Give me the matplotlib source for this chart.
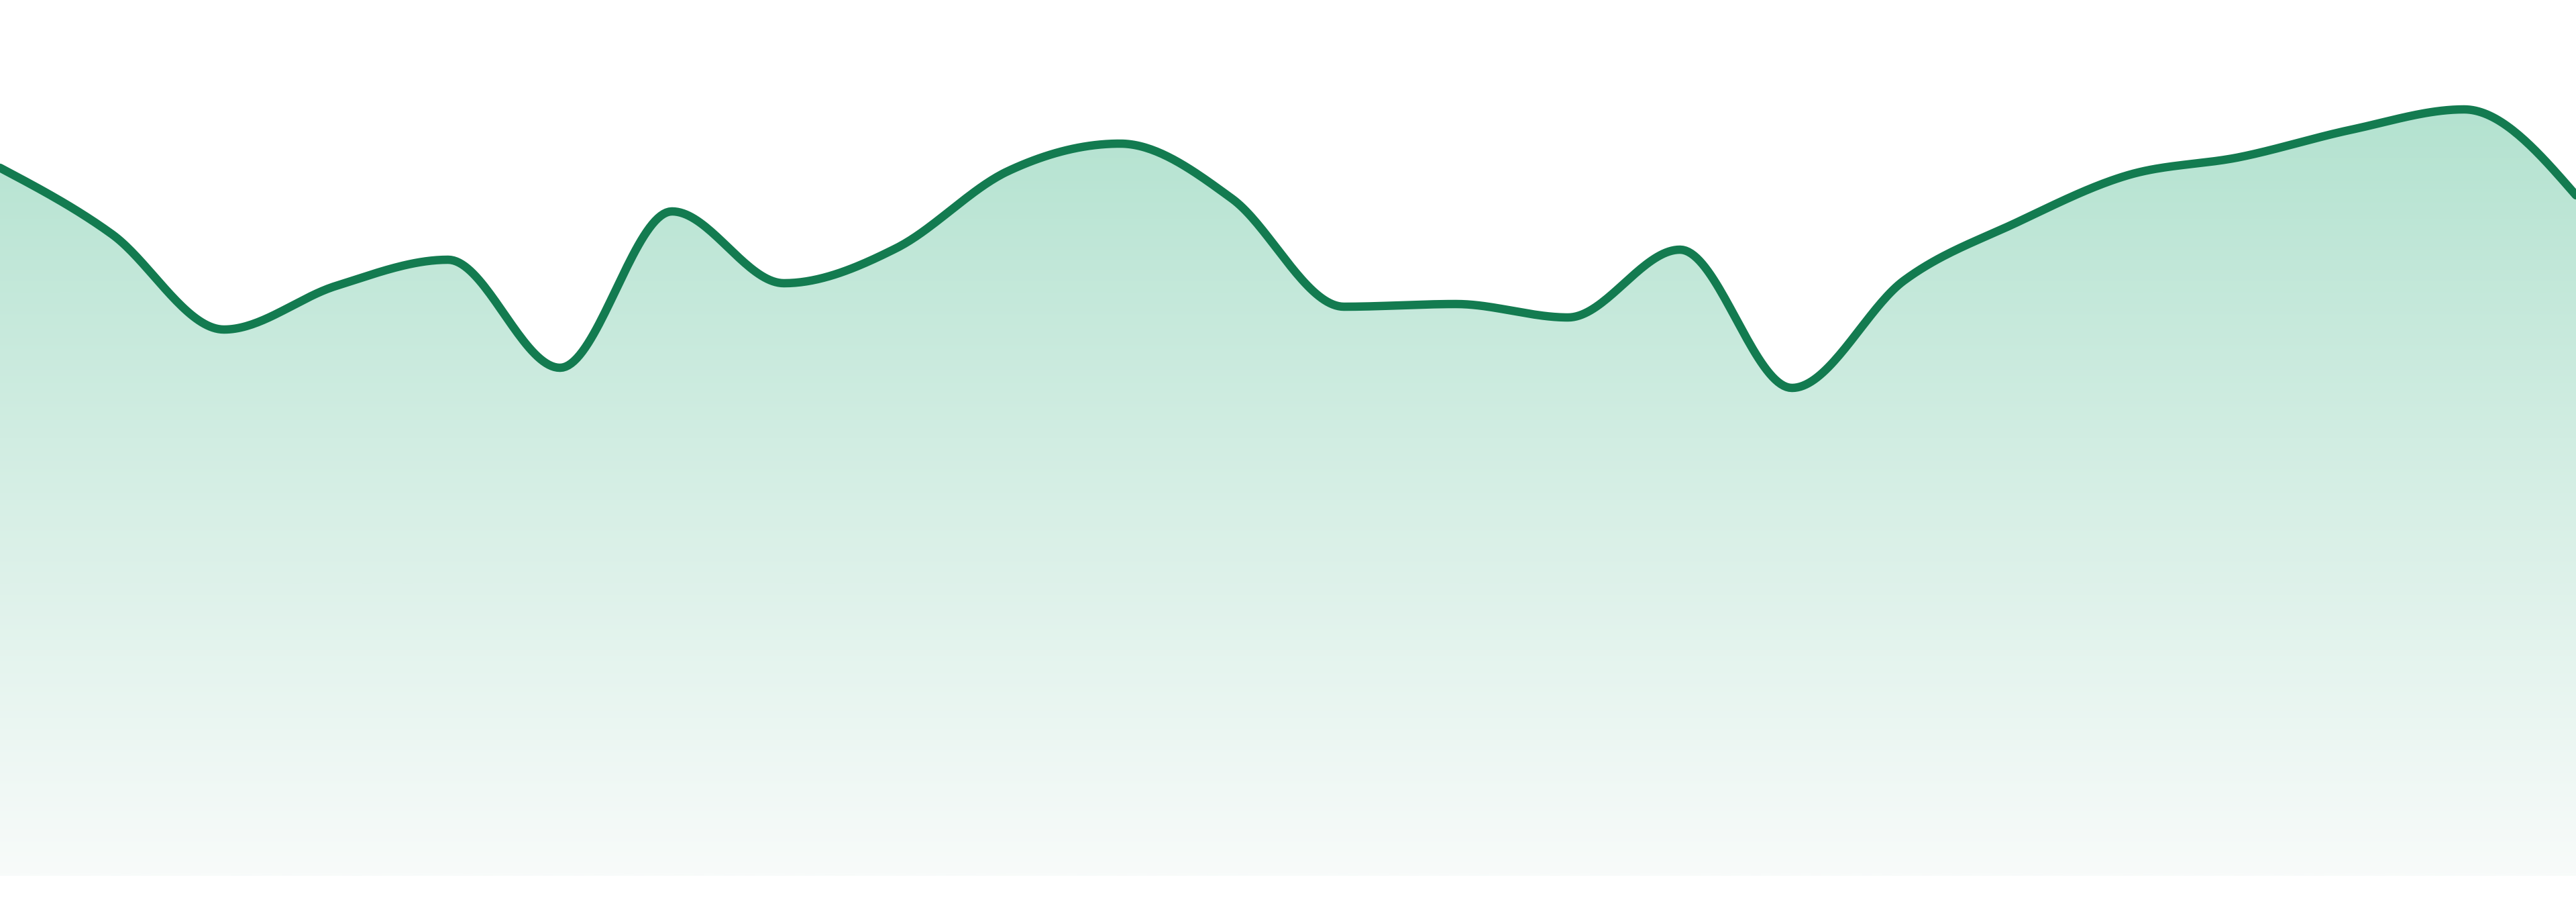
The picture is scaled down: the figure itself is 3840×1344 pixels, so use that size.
import numpy as np
import matplotlib
matplotlib.use("Agg")
import matplotlib.pyplot as plt
from matplotlib.colors import LinearSegmentedColormap

# ---- data ----
x_index = list(range(24))
values = [1055, 956, 814, 879, 918, 757, 990, 883, 935, 1050, 1091, 1009,
          848, 852, 832, 933, 727, 887, 973, 1044, 1071, 1112, 1142, 1014]

line_color = "#137b50"
grad_top = "#aadfca"
grad_bottom = "#f8fbfa"


def monotone_x(xs, ys, n=40):
    """d3 curveMonotoneX style cubic Hermite interpolation."""
    xs = np.asarray(xs, float)
    ys = np.asarray(ys, float)
    h = np.diff(xs)
    s = np.diff(ys) / h
    m = np.zeros_like(ys)
    for i in range(1, len(xs) - 1):
        s0, s1 = s[i - 1], s[i]
        p = (s0 * h[i] + s1 * h[i - 1]) / (h[i - 1] + h[i])
        m[i] = (np.sign(s0) + np.sign(s1)) * min(abs(s0), abs(s1), 0.5 * abs(p))
    m[0] = (3 * s[0] - m[1]) / 2
    m[-1] = (3 * s[-1] - m[-2]) / 2
    px, py = [], []
    for i in range(len(xs) - 1):
        t = np.linspace(0, 1, n, endpoint=(i == len(xs) - 2))
        h00 = 2 * t**3 - 3 * t**2 + 1
        h10 = t**3 - 2 * t**2 + t
        h01 = -2 * t**3 + 3 * t**2
        h11 = t**3 - t**2
        px.append(xs[i] + t * h[i])
        py.append(h00 * ys[i] + h10 * h[i] * m[i] + h01 * ys[i + 1] + h11 * h[i] * m[i + 1])
    return np.concatenate(px), np.concatenate(py)


W, H, DPI = 3840, 1344, 100
fig = plt.figure(figsize=(W / DPI, H / DPI), dpi=DPI)
fig.patch.set_facecolor("white")
bottom_px = 1305
ax = fig.add_axes([0, (H - bottom_px) / H, 1, bottom_px / H])
ax.set_xlim(0, len(x_index) - 1)
ax.set_ylim(0, bottom_px)
ax.axis("off")

cx, cy = monotone_x(x_index, values)

poly = ax.fill_between(cx, 0, cy, facecolor="none", edgecolor="none")
cmap = LinearSegmentedColormap.from_list("g", [grad_bottom, grad_top])
grad = np.linspace(0, 1, 512).reshape(-1, 1)
img = ax.imshow(grad, cmap=cmap, aspect="auto", origin="lower",
                extent=[0, len(x_index) - 1, 0, bottom_px], interpolation="bilinear")
img.set_clip_path(poly.get_paths()[0], transform=ax.transData)

ax.plot(cx, cy, color=line_color, linewidth=9, solid_capstyle="round",
        solid_joinstyle="round")

fig.savefig("out.png", dpi=DPI, facecolor="white")
